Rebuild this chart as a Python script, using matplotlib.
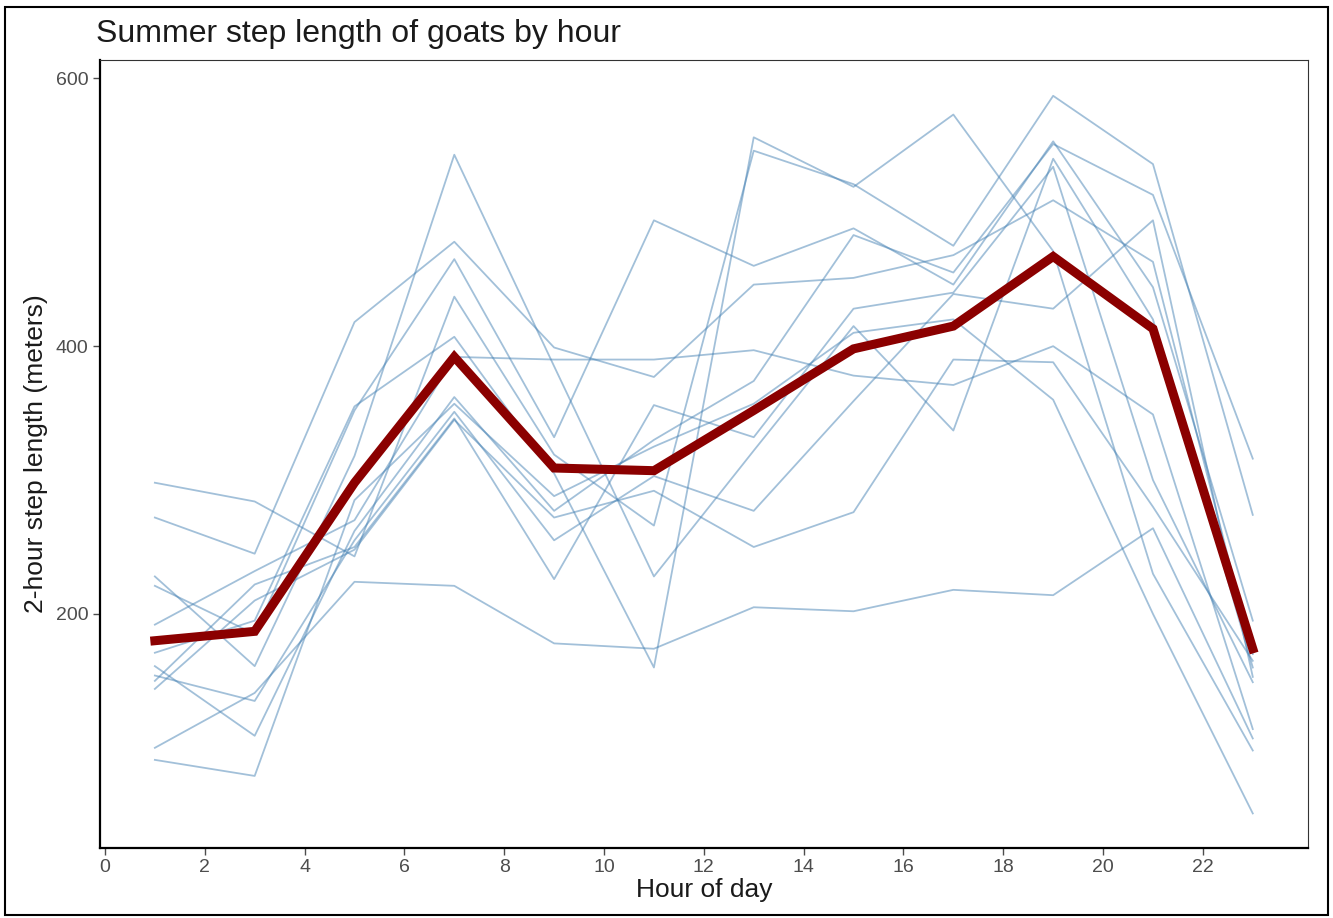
import matplotlib
matplotlib.use("Agg")
import matplotlib.pyplot as plt
from matplotlib.patches import Rectangle

plt.rcParams["font.family"] = ["Liberation Sans", "DejaVu Sans"]

hours = [1, 3, 5, 7, 9, 11, 13, 15, 17, 19, 21, 23]

# one row per goat, 2-hour step length (m) at each hour
goat_01 = [100, 141, 224, 221, 178, 174, 205, 202, 218, 214, 264, 107]
goat_02 = [228, 161, 318, 543, 385, 228, 322, 415, 337, 540, 420, 160]
goat_03 = [272, 245, 418, 478, 399, 377, 446, 451, 468, 509, 463, 170]
goat_04 = [192, 232, 270, 392, 390, 390, 397, 378, 371, 400, 349, 114]
goat_05 = [221, 185, 352, 465, 332, 494, 460, 488, 446, 553, 444, 195]
goat_06 = [298, 284, 243, 437, 319, 266, 546, 521, 475, 587, 536, 274]
goat_07 = [171, 195, 355, 407, 305, 160, 556, 519, 573, 471, 230, 98]
goat_08 = [161, 109, 262, 362, 277, 330, 374, 483, 455, 551, 513, 316]
goat_09 = [154, 135, 255, 351, 255, 303, 277, 359, 439, 428, 494, 153]
goat_10 = [150, 222, 250, 346, 226, 356, 332, 428, 440, 534, 300, 149]
goat_11 = [144, 210, 248, 345, 272, 292, 250, 276, 390, 388, 280, 165]
goat_12 = [91, 79, 285, 357, 288, 325, 357, 410, 420, 360, 200, 51]

goats = [goat_01, goat_02, goat_03, goat_04, goat_05, goat_06,
         goat_07, goat_08, goat_09, goat_10, goat_11, goat_12]

# average over all goats
mean_step = [180, 187, 298, 392, 309, 307, 352, 398, 415, 467, 413, 174]

fig = plt.figure(figsize=(13.33, 9.18), dpi=100)
ax = fig.add_axes([0.075, 0.076, 0.906, 0.859])

for g in goats:
    ax.plot(hours, g, color="#4682B4", alpha=0.5, linewidth=1.3)

ax.plot(hours, mean_step, color="#8B0000", linewidth=6.5, solid_joinstyle="miter")

ax.set_xlim(-0.1, 24.1)
ax.set_ylim(25, 614)
ax.set_xticks(range(0, 23, 2))
ax.set_yticks([200, 400, 600])

ax.set_xlabel("Hour of day", fontsize=19, color="#1a1a1a", labelpad=1)
ax.set_ylabel("2-hour step length (meters)", fontsize=19, color="#1a1a1a", labelpad=5)
ax.set_title("Summer step length of goats by hour", fontsize=23, loc="left",
             x=-0.003, pad=13, color="#1a1a1a")

ax.tick_params(axis="both", colors="#4D4D4D", labelsize=14, length=5, width=1)
ax.tick_params(axis="x", pad=3)

for side in ["left", "bottom"]:
    ax.spines[side].set_linewidth(1.6)
    ax.spines[side].set_color("black")
for side in ["top", "right"]:
    ax.spines[side].set_linewidth(0.8)
    ax.spines[side].set_color("#333333")

fig.patches.append(Rectangle((0.004, 0.003), 0.992, 0.989, transform=fig.transFigure,
                             fill=False, edgecolor="black", linewidth=1.5))

fig.savefig("out.png", dpi=100)
